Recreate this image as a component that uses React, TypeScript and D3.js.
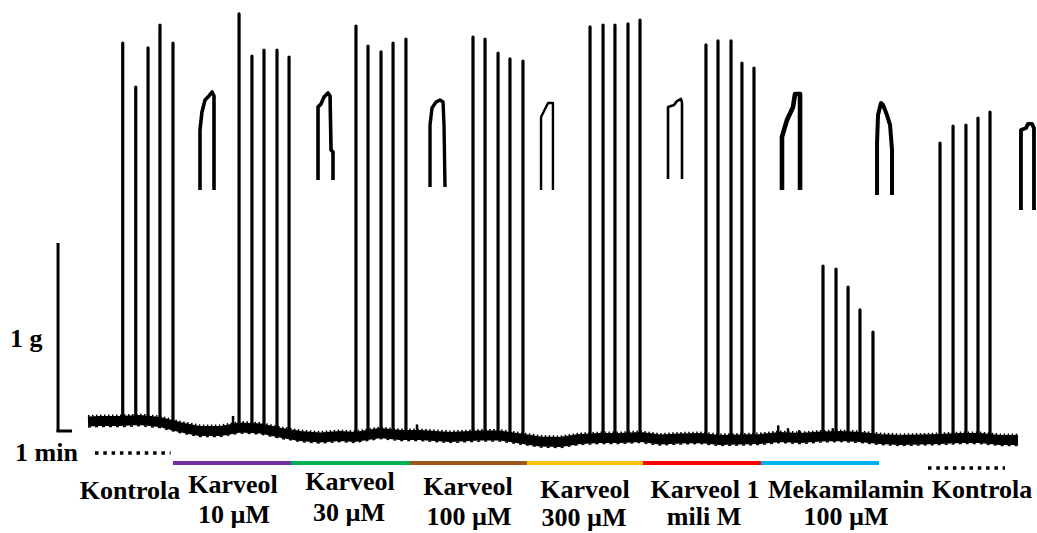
import React from "react";
import * as d3 from "d3";

// ---- Data (time in minutes, force in grams) ----
// Baseline of the trace
const baseTimes = [0, 0.86, 2.29, 3.71, 5.14, 6.57, 8.0, 9.43, 10.86, 12.29, 13.71, 15.14, 16.57, 18.0, 19.07, 20.86, 22.29, 23.71, 25.86, 28.0, 29.43, 30.86, 32.29, 33.71, 35.14, 36.57, 38.0, 39.43, 40.86, 42.29, 43.71, 45.14, 46.57, 48.0, 49.43, 50.86, 52.29, 53.71, 55.14, 56.57, 58.0, 59.43, 60.86, 62.29, 63.71, 65.14, 66.43];
const baseValues = [0.056, 0.058, 0.058, 0.063, 0.053, 0.026, 0.005, 0.005, 0.024, 0.019, -0.003, -0.021, -0.029, -0.021, -0.026, -0.005, -0.016, -0.016, -0.026, -0.019, -0.019, -0.034, -0.05, -0.053, -0.037, -0.032, -0.032, -0.026, -0.04, -0.034, -0.032, -0.042, -0.04, -0.037, -0.026, -0.032, -0.024, -0.021, -0.026, -0.037, -0.042, -0.04, -0.037, -0.032, -0.032, -0.042, -0.042];

// Small noise artefacts on the baseline (time, top value)
const artefactTimes = [10.36, 23.5, 49.3, 50.0, 50.8, 53.2];
const artefactValues = [0.085, 0.04, 0.035, 0.02, 0.01, 0.02];

// Contraction peaks
const spikeTimes = [
  2.48, 3.41, 4.29, 5.14, 6.07,
  10.79, 11.71, 12.57, 13.5, 14.36,
  19.14, 20.0, 20.93, 21.79, 22.71,
  27.5, 28.36, 29.29, 30.14, 31.07,
  35.86, 36.79, 37.64, 38.57, 39.43,
  44.14, 45.0, 45.93, 46.71, 47.57,
  52.5, 53.43, 54.29, 55.14, 56.07,
  60.86, 61.79, 62.71, 63.57, 64.43,
];
const spikePeaks = [
  2.058, 1.825, 2.032, 2.153, 2.058,
  2.212, 1.989, 2.021, 2.021, 1.984,
  2.148, 2.042, 2.011, 2.058, 2.079,
  2.09, 2.079, 2.005, 1.974, 1.963,
  2.143, 2.153, 2.153, 2.159, 2.18,
  2.048, 2.069, 2.069, 1.952, 1.926,
  0.878, 0.862, 0.767, 0.646, 0.529,
  1.529, 1.619, 1.624, 1.661, 1.693,
];

// Magnified single-contraction insets: [time, grams]
const inset1 = [[8.0, 1.28], [8.0, 1.598], [8.14, 1.693], [8.36, 1.757], [8.64, 1.778], [8.86, 1.799], [9.0, 1.778], [9.0, 1.28]];
const inset2 = [[16.43, 1.333], [16.43, 1.72], [16.64, 1.735], [16.86, 1.772], [17.14, 1.794], [17.29, 1.778], [17.36, 1.492], [17.5, 1.481], [17.5, 1.333]];
const inset3 = [[24.43, 1.296], [24.43, 1.624], [24.57, 1.714], [24.86, 1.746], [25.14, 1.757], [25.36, 1.746], [25.43, 1.624], [25.5, 1.296]];
const inset4 = [[32.36, 1.28], [32.36, 1.667], [32.86, 1.741], [33.21, 1.741], [33.21, 1.28]];
const inset5 = [[41.43, 1.339], [41.43, 1.72], [41.86, 1.73], [42.07, 1.751], [42.36, 1.762], [42.43, 1.741], [42.43, 1.339]];
const inset6 = [[49.57, 1.28], [49.57, 1.561], [49.93, 1.651], [50.36, 1.72], [50.5, 1.788], [50.86, 1.788], [50.86, 1.28]];
const inset7 = [[56.36, 1.254], [56.36, 1.529], [56.43, 1.677], [56.64, 1.741], [56.79, 1.73], [57.07, 1.677], [57.29, 1.624], [57.43, 1.492], [57.43, 1.254]];
const inset8 = [[66.64, 1.175], [66.64, 1.598], [67.0, 1.608], [67.14, 1.63], [67.43, 1.63], [67.57, 1.608], [67.57, 1.175]];
const insets = [inset1, inset2, inset3, inset4, inset5, inset6, inset7, inset8];
const insetWidths = [3.6, 3.6, 3.4, 2.4, 2.6, 4.6, 4.0, 3.8];

// Treatments
const treatmentLine1 = ["Karveol", "Karveol", "Karveol", "Karveol", "Karveol 1", "Mekamilamin"];
const treatmentLine2 = ["10 µM", "30 µM", "100 µM", "300 µM", "mili M", "100 µM"];
const treatmentStarts = [6.07, 14.5, 23.0, 31.36, 39.64, 48.07];
const treatmentEnds = [14.5, 23.0, 31.36, 39.64, 48.07, 56.5];
const treatmentColors = ["#7030A0", "#00B050", "#9C561A", "#FFC000", "#FF0000", "#00B0F0"];
const controlLabel = "Kontrola";
const controlStarts = [0.5, 60.0];
const controlEnds = [5.9, 65.5];

// Layout (px) for labels
const line1X = [233, 350, 468, 585, 705, 846];
const line1Y = [493, 490, 495, 498, 498, 498];
const line2X = [234, 349, 469, 584, 704, 846];
const line2Y = [523, 521, 525, 526, 525, 525];

export default function App() {
  const W = 1037, H = 533;
  const x = d3.scaleLinear().domain([0, 1]).range([88, 102]); // 1 min = 14 px
  const y = d3.scaleLinear().domain([0, 1]).range([432, 243]); // 1 g = 189 px

  const baseAt = (t: number) => {
    const i = d3.bisectLeft(baseTimes, t);
    if (i <= 0) return baseValues[0];
    if (i >= baseTimes.length) return baseValues[baseValues.length - 1];
    const t0 = baseTimes[i - 1], t1 = baseTimes[i];
    const f = (t - t0) / (t1 - t0);
    return baseValues[i - 1] + f * (baseValues[i] - baseValues[i - 1]);
  };

  const line = d3.line<number[]>().x((d) => x(d[0])).y((d) => y(d[1]));
  const basePath = line(baseTimes.map((t, i) => [t, baseValues[i]])) || "";

  const font = "'Liberation Serif', 'Times New Roman', serif";
  const barY = 463;
  const scaleT = -2.14;

  return (
    <svg width={W} height={H} style={{ position: "absolute", left: 0, top: 0, background: "#fff" }}>
      <rect width={W} height={H} fill="#fff" />
      {/* baseline band */}
      <path d={basePath} fill="none" stroke="#000" strokeWidth={10} strokeLinejoin="round" strokeLinecap="butt" />
      <path d={basePath} fill="none" stroke="#000" strokeWidth={2} strokeDasharray="1.5 2.5" transform="translate(0,-5.5)" />
      <path d={basePath} fill="none" stroke="#000" strokeWidth={1.5} strokeDasharray="3 4" transform="translate(0,5.5)" />
      {artefactTimes.map((t, i) => (
        <line key={"a" + i} x1={x(t)} x2={x(t)} y1={y(baseAt(t))} y2={y(artefactValues[i])} stroke="#000" strokeWidth={2.5} />
      ))}
      {/* spikes */}
      {spikeTimes.map((t, i) => (
        <line key={"s" + i} x1={x(t)} x2={x(t)} y1={y(baseAt(t))} y2={y(spikePeaks[i])} stroke="#000" strokeWidth={3.2} strokeLinecap="round" />
      ))}
      {/* insets */}
      {insets.map((pts, i) => (
        <path key={"i" + i} d={line(pts) || ""} fill="none" stroke="#000" strokeWidth={insetWidths[i]} strokeLinejoin="round" />
      ))}
      {/* scale bar */}
      <line x1={x(scaleT)} x2={x(scaleT)} y1={y(1)} y2={y(0)} stroke="#000" strokeWidth={3} />
      <line x1={x(scaleT) - 1.5} x2={x(scaleT + 1)} y1={y(0) - 1} y2={y(0) - 1} stroke="#000" strokeWidth={3} />
      <text x={10} y={347} fontFamily={font} fontWeight="bold" fontSize={26}>1 g</text>
      <text x={15} y={461} fontFamily={font} fontWeight="bold" fontSize={26}>1 min</text>
      {/* control dotted lines */}
      {controlStarts.map((s, i) => (
        <line key={"c" + i} x1={x(s)} x2={x(controlEnds[i])} y1={i === 0 ? 453 : 468} y2={i === 0 ? 453 : 468} stroke="#000" strokeWidth={3.5} strokeDasharray="3.5 4.8" />
      ))}
      {/* treatment bars */}
      {treatmentStarts.map((s, i) => (
        <line key={"b" + i} x1={x(s)} x2={x(treatmentEnds[i])} y1={barY} y2={barY} stroke={treatmentColors[i]} strokeWidth={4} />
      ))}
      {/* labels */}
      <text x={130} y={499} textAnchor="middle" fontFamily={font} fontWeight="bold" fontSize={26}>{controlLabel}</text>
      <text x={982} y={498} textAnchor="middle" fontFamily={font} fontWeight="bold" fontSize={26}>{controlLabel}</text>
      {treatmentLine1.map((s, i) => (
        <g key={"l" + i}>
          <text x={line1X[i]} y={line1Y[i]} textAnchor="middle" fontFamily={font} fontWeight="bold" fontSize={26}>{s}</text>
          <text x={line2X[i]} y={line2Y[i]} textAnchor="middle" fontFamily={font} fontWeight="bold" fontSize={26}>{treatmentLine2[i]}</text>
        </g>
      ))}
    </svg>
  );
}
